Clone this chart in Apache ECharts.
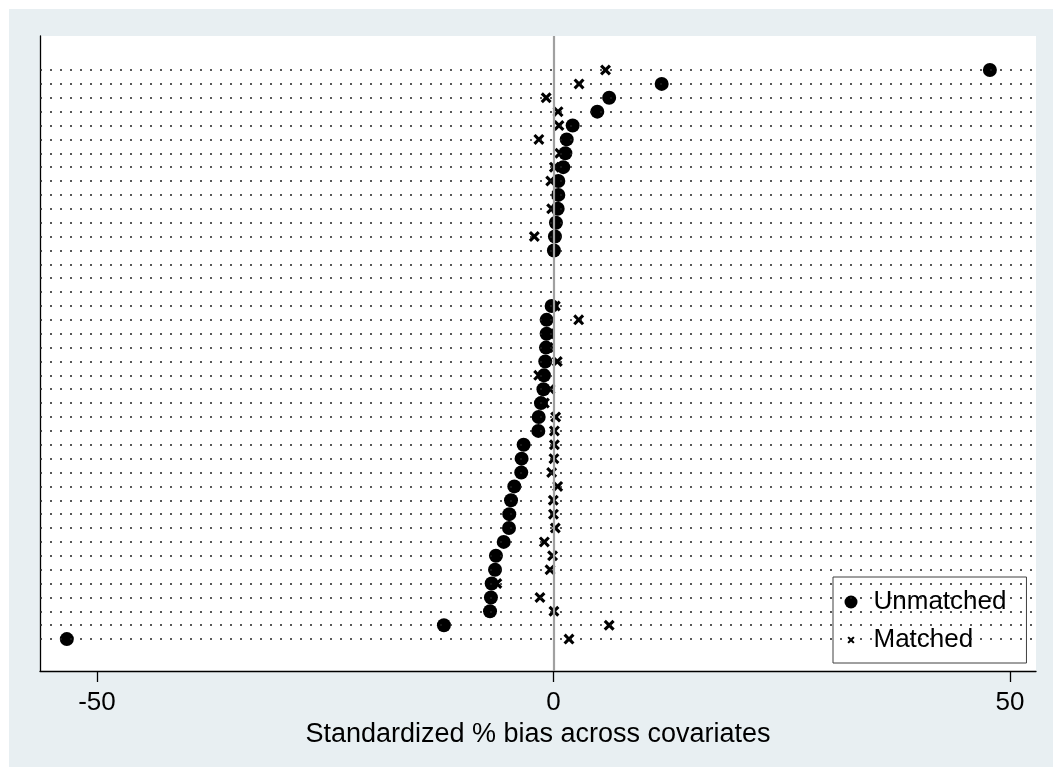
<!DOCTYPE html>
<html>
<head>
<meta charset="utf-8">
<script src="https://cdn.jsdelivr.net/npm/echarts@6/dist/echarts.min.js"></script>
<style>
  html, body { margin: 0; padding: 0; background: #ffffff; }
  #chart { position: absolute; left: 9px; top: 9px; width: 1044px; height: 758px; }
</style>
</head>
<body>
<div id="chart"></div>
<script>
// Covariate rows (top to bottom), sorted by unmatched bias
const rowIndex = [0,1,2,3,4,5,6,7,8,9,10,11,12,13,14,15,16,17,18,19,20,
                  21,22,23,24,25,26,27,28,29,30,31,32,33,34,35,36,37,38,39,40,41];
// Standardized % bias before matching
const unmatched = [47.8, 11.85, 6.1, 4.8, 2.1, 1.45, 1.3, 1.07, 0.53, 0.53, 0.46,
                   0.27, 0.16, 0.05, null, null, null, -0.2, -0.75, -0.75, -0.82,
                   -0.9, -1.04, -1.1, -1.37, -1.62, -1.66, -3.27, -3.49, -3.53, -4.29,
                   -4.65, -4.84, -4.87, -5.45, -6.3, -6.4, -6.77, -6.85, -6.95, -12.0, -53.3];
// Standardized % bias after matching
const matched = [5.7, 2.8, -0.8, 0.5, 0.6, -1.6, 0.7, 0.1, -0.3, 0.4, -0.2,
                 0.2, -2.1, 0.0, null, null, null, 0.2, 2.76, -0.5, -0.6,
                 0.42, -1.62, -0.38, -1.0, 0.24, 0.1, 0.1, 0.05, -0.2, 0.46,
                 -0.02, 0.0, 0.2, -1.0, -0.1, -0.38, -6.2, -1.48, 0.05, 6.1, 1.7];
const xTicks = [-50, 0, 50];
const refLine = 0;
const xTitle = 'Standardized % bias across covariates';
const seriesNames = ['Unmatched', 'Matched'];

const FONT = "'Liberation Sans', Arial, sans-serif";
const crossPath = 'path://M2,0 L5,3 L8,0 L10,2 L7,5 L10,8 L8,10 L5,7 L2,10 L0,8 L3,5 L0,2 Z';
const crossLegend = 'path://M-4,-4 M14,14 M2,0 L5,3 L8,0 L10,2 L7,5 L10,8 L8,10 L5,7 L2,10 L0,8 L3,5 L0,2 Z';

function pts(vals) {
  const out = [];
  rowIndex.forEach((r, i) => { if (vals[i] !== null) out.push([vals[i], r]); });
  return out;
}

const chart = echarts.init(document.getElementById('chart'), null, { renderer: 'canvas' });
chart.setOption({
  animation: false,
  backgroundColor: '#e8eff2',
  textStyle: { fontFamily: FONT },
  grid: { left: 31, top: 27, width: 996, height: 635, show: true, backgroundColor: '#ffffff', borderWidth: 0 },
  xAxis: {
    type: 'value', min: -56.24, max: 52.85,
    name: xTitle, nameLocation: 'middle', nameGap: 46,
    nameTextStyle: { fontSize: 27, color: '#000', fontFamily: FONT },
    axisLine: { show: true, onZero: false, lineStyle: { color: '#000', width: 1.3 } },
    axisTick: { show: true, length: 11, inside: false, customValues: xTicks, lineStyle: { color: '#000', width: 1.3 } },
    axisLabel: { show: true, customValues: xTicks, margin: 19, fontSize: 26, color: '#000', fontFamily: FONT },
    splitLine: { show: false }
  },
  yAxis: {
    type: 'value', min: -2.45, max: 43.3, inverse: true,
    axisLine: { show: true, onZero: false, lineStyle: { color: '#000', width: 1.3 } },
    axisTick: { show: false }, axisLabel: { show: false }, splitLine: { show: false }
  },
  legend: {
    orient: 'vertical', left: 824, top: 568,
    padding: [10, 20, 8, 11.5], itemGap: 8, itemWidth: 13, itemHeight: 13,
    backgroundColor: '#ffffff', borderColor: '#404040', borderWidth: 1, borderRadius: 0,
    textStyle: { fontSize: 26, color: '#000', fontFamily: FONT, lineHeight: 30, padding: [0, 0, 0, 11] },
    selectedMode: false,
    data: [
      { name: seriesNames[0], icon: 'circle' },
      { name: seriesNames[1], icon: crossLegend }
    ]
  },
  series: [
    {
      name: 'grid', type: 'scatter', data: [], z: 1, silent: true,
      markLine: {
        silent: true, symbol: ['none', 'none'], label: { show: false },
        animation: false,
        lineStyle: { color: '#222', width: 1.5, type: [2, 8] },
        emphasis: { disabled: true },
        data: rowIndex.map(r => ({ yAxis: r }))
      }
    },
    {
      name: 'ref', type: 'scatter', data: [], z: 2, silent: true,
      markLine: {
        silent: true, symbol: ['none', 'none'], label: { show: false },
        animation: false,
        lineStyle: { color: '#a0a0a0', width: 2.2, type: 'solid' },
        emphasis: { disabled: true },
        data: [{ xAxis: refLine }]
      }
    },
    {
      name: seriesNames[1], type: 'scatter', z: 3,
      symbol: crossPath, symbolSize: 11,
      itemStyle: { color: '#000', opacity: 1 },
      data: pts(matched)
    },
    {
      name: seriesNames[0], type: 'scatter', z: 4,
      symbol: 'circle', symbolSize: 14,
      itemStyle: { color: '#000', opacity: 1 },
      data: pts(unmatched)
    }
  ]
});
</script>
</body>
</html>
